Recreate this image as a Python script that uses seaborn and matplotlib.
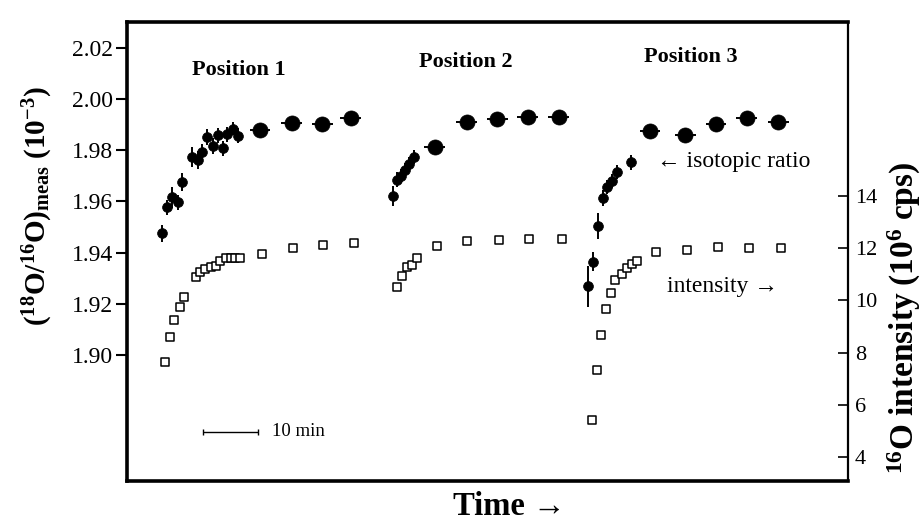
import matplotlib
matplotlib.use("Agg")
import matplotlib.pyplot as plt
import seaborn as sns
import pandas as pd

# ---------------- data (time in minutes) ----------------
# isotopic ratio, single measurements (small filled circles), 10^-3
ratio_time = [6.4, 7.3, 8.2, 9.3, 10.0, 11.8, 12.9, 13.6, 14.5, 15.6, 16.5, 17.5, 18.2, 19.3, 20.2,
              48.4, 49.1, 49.8, 50.5, 51.3, 52.2,
              83.8, 84.7, 85.6, 86.5, 87.3, 88.2, 89.1, 91.6]
ratio_value = [1.9476, 1.9577, 1.9616, 1.9596, 1.9677, 1.9774, 1.9762, 1.9793, 1.9852, 1.9816,
               1.9858, 1.9807, 1.9862, 1.9884, 1.9857,
               1.9622, 1.9685, 1.9700, 1.9723, 1.9746, 1.9773,
               1.9268, 1.9365, 1.9505, 1.9614, 1.9657, 1.9680, 1.9715, 1.9753]
ratio_err = [0.0033, 0.0030, 0.0042, 0.0030, 0.0036, 0.0039, 0.0036, 0.0032, 0.0030, 0.0030,
             0.0030, 0.0030, 0.0028, 0.0026, 0.0030,
             0.0040, 0.0030, 0.0028, 0.0028, 0.0028, 0.0028,
             0.0080, 0.0036, 0.0050, 0.0030, 0.0026, 0.0026, 0.0026, 0.0030]

# isotopic ratio, averaged over longer intervals (large filled circles)
avg_time = [24.2, 30.0, 35.5, 40.7, 56.0, 61.8, 67.3, 72.9, 78.5, 95.1, 101.5, 107.1, 112.7, 118.4]
avg_value = [1.9879, 1.9907, 1.9901, 1.9926, 1.9811, 1.9910, 1.9923, 1.9929, 1.9930,
             1.9877, 1.9858, 1.9903, 1.9924, 1.9910]
avg_halfwidth = [1.9, 1.9, 1.9, 1.9, 1.9, 1.9, 1.9, 1.9, 1.9, 1.9, 1.9, 1.9, 1.9, 1.9]

# 16O intensity (open squares), 10^6 cps
int_time = [6.9, 7.8, 8.5, 9.6, 10.4, 12.5, 13.3, 14.2, 15.3, 16.2, 16.9, 18.0, 18.9, 19.6, 20.5,
            24.5, 30.2, 35.6, 41.3,
            49.1, 50.0, 50.9, 51.8, 52.7, 56.4, 61.8, 67.6, 73.1, 79.1,
            84.5, 85.5, 86.2, 87.1, 88.0, 88.7, 90.0, 90.9, 91.8, 92.7, 96.2, 101.8, 107.5, 113.1, 118.9]
int_value = [7.65, 8.60, 9.25, 9.75, 10.13, 10.89, 11.08, 11.23, 11.30, 11.34, 11.53, 11.64, 11.63,
             11.63, 11.63, 11.80, 12.01, 12.14, 12.23,
             10.51, 10.93, 11.27, 11.35, 11.65, 12.10, 12.27, 12.32, 12.37, 12.35,
             5.40, 7.32, 8.67, 9.66, 10.27, 10.77, 11.03, 11.26, 11.41, 11.52, 11.85, 11.94, 12.04,
             12.02, 12.03]

left_ticks = [1.90, 1.92, 1.94, 1.96, 1.98, 2.00, 2.02]
right_ticks = [4, 6, 8, 10, 12, 14]
position_labels = ["Position 1", "Position 2", "Position 3"]
position_x = [20.4, 61.6, 102.5]
position_y = [2.0113, 2.0145, 2.0164]

# ---------------- style ----------------
sns.set_style("white")
plt.rcParams["font.family"] = ["Liberation Serif", "DejaVu Serif"]
plt.rcParams["mathtext.fontset"] = "custom"
plt.rcParams["mathtext.rm"] = "Liberation Serif"
plt.rcParams["mathtext.bf"] = "Liberation Serif:bold"
plt.rcParams["mathtext.it"] = "Liberation Serif:italic"
for key in ["text.color", "axes.labelcolor", "xtick.color", "ytick.color", "axes.edgecolor"]:
    plt.rcParams[key] = "black"

fig = plt.figure(figsize=(9.24, 5.22), dpi=100)
ax = fig.add_axes([0.1374, 0.0776, 0.7803, 0.8793])
ax2 = ax.twinx()

df_ratio = pd.DataFrame({"t": ratio_time, "r": ratio_value, "e": ratio_err})
df_avg = pd.DataFrame({"t": avg_time, "r": avg_value, "w": avg_halfwidth})
df_int = pd.DataFrame({"t": int_time, "i": int_value})

# error bars
ax.errorbar(df_ratio["t"], df_ratio["r"], yerr=df_ratio["e"], fmt="none",
            ecolor="black", elinewidth=1.4, capsize=0, zorder=2)
ax.errorbar(df_avg["t"], df_avg["r"], xerr=df_avg["w"], fmt="none",
            ecolor="black", elinewidth=1.4, capsize=0, zorder=2)
# markers
sns.scatterplot(data=df_ratio, x="t", y="r", ax=ax, marker="o", s=50,
                color="black", edgecolor="black", linewidth=0.5, zorder=3, legend=False)
sns.scatterplot(data=df_avg, x="t", y="r", ax=ax, marker="o", s=118,
                color="black", edgecolor="black", linewidth=0.5, zorder=3, legend=False)
sns.scatterplot(data=df_int, x="t", y="i", ax=ax2, marker="s", s=26,
                color="white", edgecolor="black", linewidth=1.1, zorder=3, legend=False)

# scale bar (10 min)
ax.errorbar([18.8], [1.8701], xerr=[5.0], fmt="none", ecolor="black",
            elinewidth=1.0, capsize=2.5, capthick=1.0)
ax.text(26.4, 1.8701, "10 min", fontsize=13.5, ha="left", va="center")

# annotations
for lab, x, y in zip(position_labels, position_x, position_y):
    ax.text(x, y, lab, fontsize=16, fontweight="bold", ha="center", va="center")
ax.text(96.4, 1.9755, "\u2190 isotopic ratio", fontsize=17, ha="left", va="center")
ax.text(98.2, 1.9268, "intensity \u2192", fontsize=17, ha="left", va="center")

# axes limits / ticks
ax.set_xlim(0, 131.1)
ax.set_ylim(1.8506, 2.0299)
ax2.set_ylim(3.04, 20.69)
ax.set_xticks([])
ax.set_yticks(left_ticks)
ax.set_yticklabels([f"{v:.2f}" for v in left_ticks], fontsize=17)
ax2.set_yticks(right_ticks)
ax2.set_yticklabels([str(v) for v in right_ticks], fontsize=16)
ax.tick_params(axis="y", direction="out", length=8, width=1.5, pad=2, left=True)
ax2.tick_params(axis="y", direction="in", length=7, width=1.2, pad=5, right=True)

# spines
for s in ["left", "top", "bottom"]:
    ax.spines[s].set_linewidth(2.6)
    ax.spines[s].set_color("black")
    ax2.spines[s].set_visible(False)
ax.spines["right"].set_visible(False)
ax2.spines["right"].set_linewidth(1.6)
ax2.spines["right"].set_color("black")

# axis labels
ax.set_xlabel("Time \u2192", fontsize=23.5, fontweight="bold", va="center")
ax.xaxis.set_label_coords(0.53, -0.055)
ax.set_ylabel(r"$\mathbf{(^{18}O/^{16}O)_{meas}\ (10^{-3})}$", fontsize=21, va="center")
ax.yaxis.set_label_coords(-0.123, 0.60)
ax2.set_ylabel(r"$\mathbf{^{16}O\ intensity\ (10^{6}\ cps)}$", fontsize=24, va="center",
               rotation=90)
ax2.yaxis.set_label_coords(1.078, 0.356)

fig.savefig("out.png", dpi=100, facecolor="white")
